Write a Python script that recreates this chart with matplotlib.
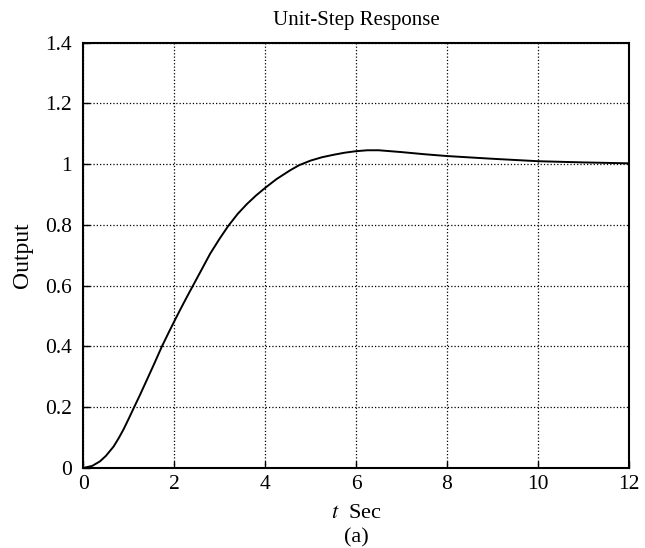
import matplotlib.pyplot as plt

# Values
t = [0, 0.2, 0.37, 0.5, 0.67, 0.78, 0.89, 1.0, 1.11, 1.25, 1.40, 1.57, 1.73,
     1.88, 2.02, 2.15, 2.28, 2.42, 2.6, 2.79, 3.0, 3.19, 3.4, 3.6, 3.8, 4.0,
     4.25, 4.55, 4.75, 5.0, 5.25, 5.5, 5.75, 6.0, 6.25, 6.5, 7.0, 7.5, 8.0,
     9.0, 10.0, 11.0, 12.0]
output = [0, 0.007, 0.022, 0.040, 0.071, 0.098, 0.128, 0.162, 0.197, 0.241,
          0.290, 0.346, 0.400, 0.446, 0.488, 0.526, 0.563, 0.602, 0.652, 0.705,
          0.755, 0.797, 0.837, 0.869, 0.897, 0.922, 0.951, 0.980, 0.997, 1.012,
          1.023, 1.031, 1.038, 1.043, 1.046, 1.046, 1.040, 1.033, 1.027, 1.018,
          1.010, 1.006, 1.003]

x_ticks = [0, 2, 4, 6, 8, 10, 12]
y_ticks = [0, 0.2, 0.4, 0.6, 0.8, 1.0, 1.2, 1.4]
y_labels = ['0', '0.2', '0.4', '0.6', '0.8', '1', '1.2', '1.4']

plt.rcParams['font.family'] = ['Liberation Serif', 'DejaVu Serif']
plt.rcParams['mathtext.fontset'] = 'stix'

fig = plt.figure(figsize=(6.45, 5.48), dpi=100)
ax = fig.add_axes([0.129, 0.146, 0.846, 0.776])

ax.plot(t, output, color='black', linewidth=1.4)

ax.set_xlim(0, 12)
ax.set_ylim(0, 1.4)
ax.set_xticks(x_ticks)
ax.set_yticks(y_ticks)
ax.set_yticklabels(y_labels)
ax.tick_params(direction='in', labelsize=15.5, length=5, width=1, pad=8)
ax.tick_params(axis='x', pad=5)
ax.grid(True, linestyle=':', color='black', linewidth=0.9)
for s in ax.spines.values():
    s.set_linewidth(1.5)

ax.set_title('Unit-Step Response', fontsize=15, pad=13)
ax.set_ylabel('Output', fontsize=17, labelpad=9)
ax.set_xlabel('$t$  Sec', fontsize=16, labelpad=7)
fig.text(0.5 * (0.129 + 0.975), 1 - 538 / 548, '(a)', fontsize=16,
         ha='center', va='center')

fig.savefig('out.png', dpi=100)
